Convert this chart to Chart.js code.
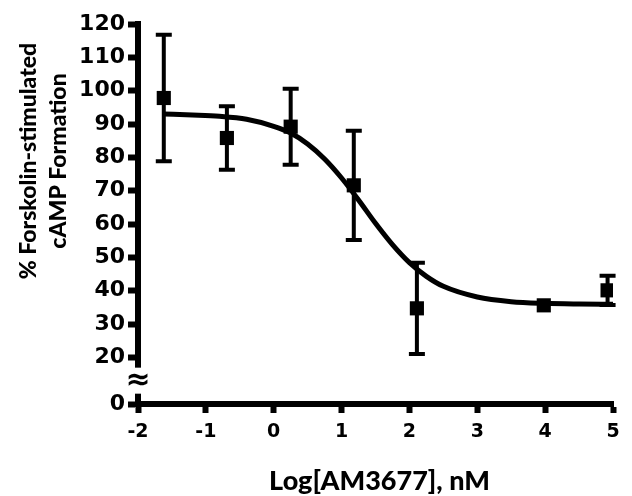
<!DOCTYPE html>
<html>
<head>
<meta charset="utf-8">
<script src="https://cdn.jsdelivr.net/npm/chart.js@4"></script>
<style>
  html, body { margin: 0; padding: 0; background: #fff; }
  #wrap { width: 632px; height: 496px; }
</style>
</head>
<body>
<div id="wrap"><canvas id="chart" width="632" height="496"></canvas></div>
<script>
// measured points (log nM, % cAMP) and SEM
const doseX = [-1.62, -0.69, 0.25, 1.18, 2.11, 3.98, 4.92];
const respY = [97.8, 85.8, 89.2, 71.6, 34.7, 35.6, 40.1];
const respErr = [19.0, 9.5, 11.4, 16.4, 13.7, 0, 4.4];

// fitted curve
const curveX = [-1.62, -1.2, -0.8, -0.4, 0, 0.25, 0.5, 0.75, 1, 1.25, 1.5, 1.75, 2, 2.25, 2.5, 3, 3.5, 4, 4.5, 5];
const curveY = [93.0, 92.7, 92.3, 91.4, 89.3, 87.3, 84.0, 79.5, 73.8, 67.2, 60.2, 53.8, 48.4, 44.3, 41.3, 38.1, 36.7, 36.2, 36.0, 35.9];

// y axis has a break: "0" sits right under the break
const yTickValues = [6, 20, 30, 40, 50, 60, 70, 80, 90, 100, 110, 120];
const yTickLabels = ['0', '20', '30', '40', '50', '60', '70', '80', '90', '100', '110', '120'];
const yBreakAt = 13;

const xTitle = 'Log[AM3677], nM';
const yTitle = ['% Forskolin-stimulated', 'cAMP Formation'];

const errorBars = {
  id: 'errorBars',
  afterDatasetsDraw(chart) {
    const ctx = chart.ctx;
    const xs = chart.scales.x, ys = chart.scales.y;
    ctx.save();
    ctx.strokeStyle = '#000';
    ctx.lineWidth = 4;
    doseX.forEach((x, i) => {
      if (!respErr[i]) return;
      const px = xs.getPixelForValue(x);
      const top = ys.getPixelForValue(respY[i] + respErr[i]);
      const bot = ys.getPixelForValue(respY[i] - respErr[i]);
      ctx.beginPath();
      ctx.moveTo(px, top); ctx.lineTo(px, bot);
      ctx.moveTo(px - 8, top); ctx.lineTo(px + 8, top);
      ctx.moveTo(px - 8, bot); ctx.lineTo(px + 8, bot);
      ctx.stroke();
    });
    ctx.restore();
  }
};

const decorations = {
  id: 'decorations',
  afterDraw(chart) {
    const ctx = chart.ctx;
    const xs = chart.scales.x, ys = chart.scales.y;
    const axisX = chart.chartArea.left;
    const by = ys.getPixelForValue(yBreakAt);

    ctx.save();
    // axis break
    ctx.fillStyle = '#fff';
    ctx.fillRect(axisX - 6, by - 13, 12, 26);
    ctx.fillStyle = '#000';
    ctx.font = 'bold 30px "DejaVu Sans", sans-serif';
    ctx.textAlign = 'center';
    ctx.textBaseline = 'middle';
    ctx.fillText('\u2248', axisX, by + 1);

    // axis titles
    ctx.font = '900 27px Lato, "Open Sans", sans-serif';
    ctx.textBaseline = 'alphabetic';
    ctx.fillText(xTitle, (xs.left + xs.right) / 2 + 4, 490);

    ctx.font = '900 23px Lato, "Open Sans", sans-serif';
    ctx.translate(36, 161);
    ctx.rotate(-Math.PI / 2);
    ctx.fillText(yTitle[0], 0, 0);
    ctx.fillText(yTitle[1], 0, 30);
    ctx.restore();
  }
};

new Chart(document.getElementById('chart'), {
  type: 'scatter',
  data: {
    datasets: [
      {
        label: 'fit',
        data: curveX.map((x, i) => ({ x: x, y: curveY[i] })),
        showLine: true,
        borderColor: '#000',
        borderWidth: 5,
        pointRadius: 0,
        cubicInterpolationMode: 'monotone',
        order: 2
      },
      {
        label: 'AM3677',
        data: doseX.map((x, i) => ({ x: x, y: respY[i] })),
        pointStyle: 'rect',
        pointRadius: 10,
        backgroundColor: '#000',
        borderColor: '#000',
        borderWidth: 0,
        order: 1
      }
    ]
  },
  options: {
    responsive: false,
    animation: false,
    layout: { padding: { top: 24, right: 19, left: 0, bottom: 0 } },
    plugins: {
      legend: { display: false },
      tooltip: { enabled: false }
    },
    scales: {
      x: {
        type: 'linear',
        min: -2,
        max: 5,
        afterFit: (scale) => { scale.height = 92; },
        ticks: {
          stepSize: 1,
          color: '#000',
          padding: 8,
          font: { family: '"DejaVu Sans", sans-serif', size: 19, weight: 'bold' }
        },
        grid: { drawOnChartArea: false, drawTicks: true, tickLength: 9, tickWidth: 6, tickColor: '#000' },
        border: { display: true, color: '#000', width: 6 }
      },
      y: {
        type: 'linear',
        min: 6,
        max: 120,
        afterFit: (scale) => { scale.width = 138; },
        afterBuildTicks: (scale) => { scale.ticks = yTickValues.map(v => ({ value: v })); },
        ticks: {
          color: '#000',
          padding: 3,
          callback: (v) => yTickLabels[yTickValues.indexOf(v)],
          font: { family: '"DejaVu Sans", sans-serif', size: 22, weight: 'bold' }
        },
        grid: { drawOnChartArea: false, drawTicks: true, tickLength: 10, tickWidth: 6, tickColor: '#000' },
        border: { display: true, color: '#000', width: 6 }
      }
    }
  },
  plugins: [errorBars, decorations]
});
</script>
</body>
</html>
